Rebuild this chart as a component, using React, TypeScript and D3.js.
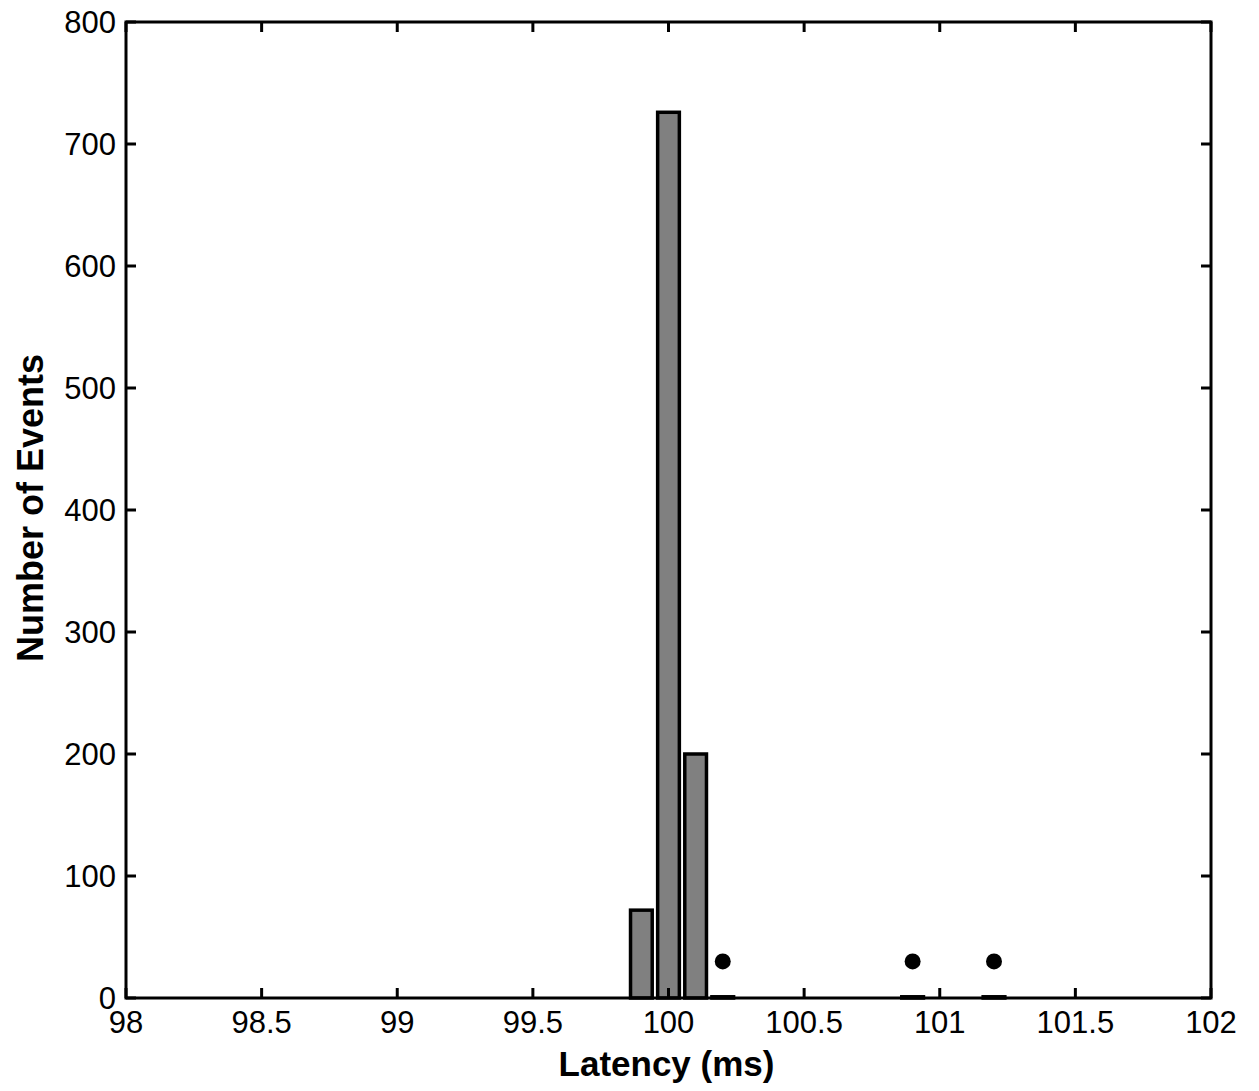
import React from "react";
import * as d3 from "d3";

const binCenters = [99.9, 100.0, 100.1, 100.2, 100.9, 101.2];
const counts = [72, 726, 200, 1, 1, 1];
const markerX = [100.2, 100.9, 101.2];
const markerY = [30, 30, 30];
const xTicks = [98, 98.5, 99, 99.5, 100, 100.5, 101, 101.5, 102];
const yTicks = [0, 100, 200, 300, 400, 500, 600, 700, 800];
const binWidth = 0.1;
const barFrac = 0.8;

const W = 1259;
const H = 1091;
const L = 126, R = 1211, T = 22, B = 998;

export default function App() {
  const x = d3.scaleLinear().domain([98, 102]).range([L, R]);
  const y = d3.scaleLinear().domain([0, 800]).range([B, T]);
  const tickLen = 10;
  const font = "'Liberation Sans', Arial, Helvetica, sans-serif";
  return (
    <div style={{ position: "absolute", left: 0, top: 0 }}>
      <svg width={W} height={H} style={{ display: "block", background: "#fff" }}>
        <rect x={0} y={0} width={W} height={H} fill="#fff" />
        {binCenters.map((c, i) => {
          const x0 = x(c - (binWidth * barFrac) / 2);
          const x1 = x(c + (binWidth * barFrac) / 2);
          const y0 = y(counts[i]);
          return (
            <rect key={i} x={x0} y={y0} width={x1 - x0} height={B - y0}
              fill="#808080" stroke="#000" strokeWidth={3.5} />
          );
        })}
        {markerX.map((m, i) => (
          <circle key={i} cx={x(m)} cy={y(markerY[i])} r={8} fill="#000" />
        ))}
        {yTicks.map((t) => (
          <g key={"y" + t}>
            <line x1={L} x2={L + tickLen} y1={y(t)} y2={y(t)} stroke="#000" strokeWidth={3} />
            <line x1={R} x2={R - tickLen} y1={y(t)} y2={y(t)} stroke="#000" strokeWidth={3} />
            <text x={L - 10} y={y(t)} dy="0.36em" textAnchor="end" fontFamily={font} fontSize={31} fill="#000">{t}</text>
          </g>
        ))}
        {xTicks.map((t) => (
          <g key={"x" + t}>
            <line x1={x(t)} x2={x(t)} y1={B} y2={B - tickLen} stroke="#000" strokeWidth={3} />
            <line x1={x(t)} x2={x(t)} y1={T} y2={T + tickLen} stroke="#000" strokeWidth={3} />
            <text x={x(t)} y={1033} textAnchor="middle" fontFamily={font} fontSize={31} fill="#000">{t}</text>
          </g>
        ))}
        <rect x={L} y={T} width={R - L} height={B - T} fill="none" stroke="#000" strokeWidth={3} />
        <text x={(L + R) / 2 - 2} y={1076} textAnchor="middle" fontFamily={font} fontSize={35} fontWeight="bold" fill="#000">Latency (ms)</text>
        <text transform={`translate(43, ${(T + B) / 2 - 2}) rotate(-90)`} textAnchor="middle" fontFamily={font} fontSize={36} fontWeight="bold" fill="#000">Number of Events</text>
      </svg>
    </div>
  );
}
